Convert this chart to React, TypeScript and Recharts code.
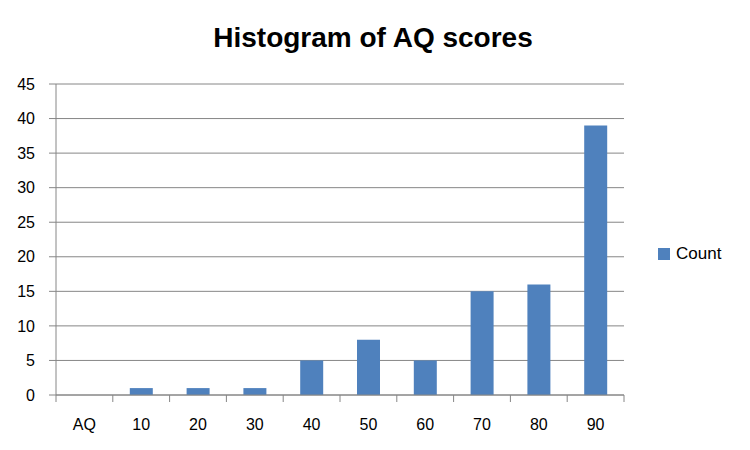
import { BarChart, Bar, XAxis, YAxis, CartesianGrid } from 'recharts';

// Histogram bins and counts
const bins = ['AQ', '10', '20', '30', '40', '50', '60', '70', '80', '90'];
const counts = [0, 1, 1, 1, 5, 8, 5, 15, 16, 39];
const yTicks = [0, 5, 10, 15, 20, 25, 30, 35, 40, 45];

const data = bins.map((bin, i) => ({ bin, Count: counts[i] }));

const FONT = '"Liberation Sans", Arial, sans-serif';
const AXIS = '#868686';
const BAR = '#4F81BD';

// Excel style: tick marks sit between categories, labels in the middle
function BinTick(props: any) {
  const { x, y, payload, index, visibleTicksCount } = props;
  const half = payload.offset || 0;
  const isLast = index === visibleTicksCount - 1;
  return (
    <g>
      <line x1={x - half} y1={y} x2={x - half} y2={y + 7} stroke={AXIS} />
      {isLast && <line x1={x + half} y1={y} x2={x + half} y2={y + 7} stroke={AXIS} />}
      <text x={x} y={y + 35} textAnchor="middle" fill="#000" fontSize={16} fontFamily={FONT}>
        {payload.value}
      </text>
    </g>
  );
}

export default function App() {
  return (
    <div style={{ position: 'absolute', left: 0, top: 0, width: 750, height: 450, background: '#fff' }}>
      <div
        style={{
          position: 'absolute',
          left: 0,
          width: 746,
          top: 22,
          textAlign: 'center',
          fontFamily: FONT,
          fontWeight: 'bold',
          fontSize: 28,
          color: '#000',
        }}
      >
        Histogram of AQ scores
      </div>
      <BarChart
        width={750}
        height={450}
        data={data}
        margin={{ top: 84, right: 126, bottom: 0, left: 0 }}
        barCategoryGap={0}
      >
        <CartesianGrid vertical={false} stroke={AXIS} />
        <XAxis
          dataKey="bin"
          stroke={AXIS}
          tickLine={false}
          tickSize={0}
          tickMargin={0}
          height={55}
          interval={0}
          tick={<BinTick />}
        />
        <YAxis
          domain={[0, 45]}
          ticks={yTicks}
          interval={0}
          width={56}
          stroke={AXIS}
          tickSize={7}
          tickMargin={14}
          tick={{ fill: '#000', fontSize: 16, fontFamily: FONT }}
        />
        <Bar dataKey="Count" fill={BAR} barSize={23} isAnimationActive={false} />
      </BarChart>
      <div
        style={{
          position: 'absolute',
          left: 658,
          top: 244,
          display: 'flex',
          alignItems: 'center',
          fontFamily: FONT,
          fontSize: 17,
          color: '#000',
        }}
      >
        <span style={{ width: 12, height: 12, background: BAR, display: 'inline-block', marginRight: 6 }} />
        <span>Count</span>
      </div>
    </div>
  );
}
